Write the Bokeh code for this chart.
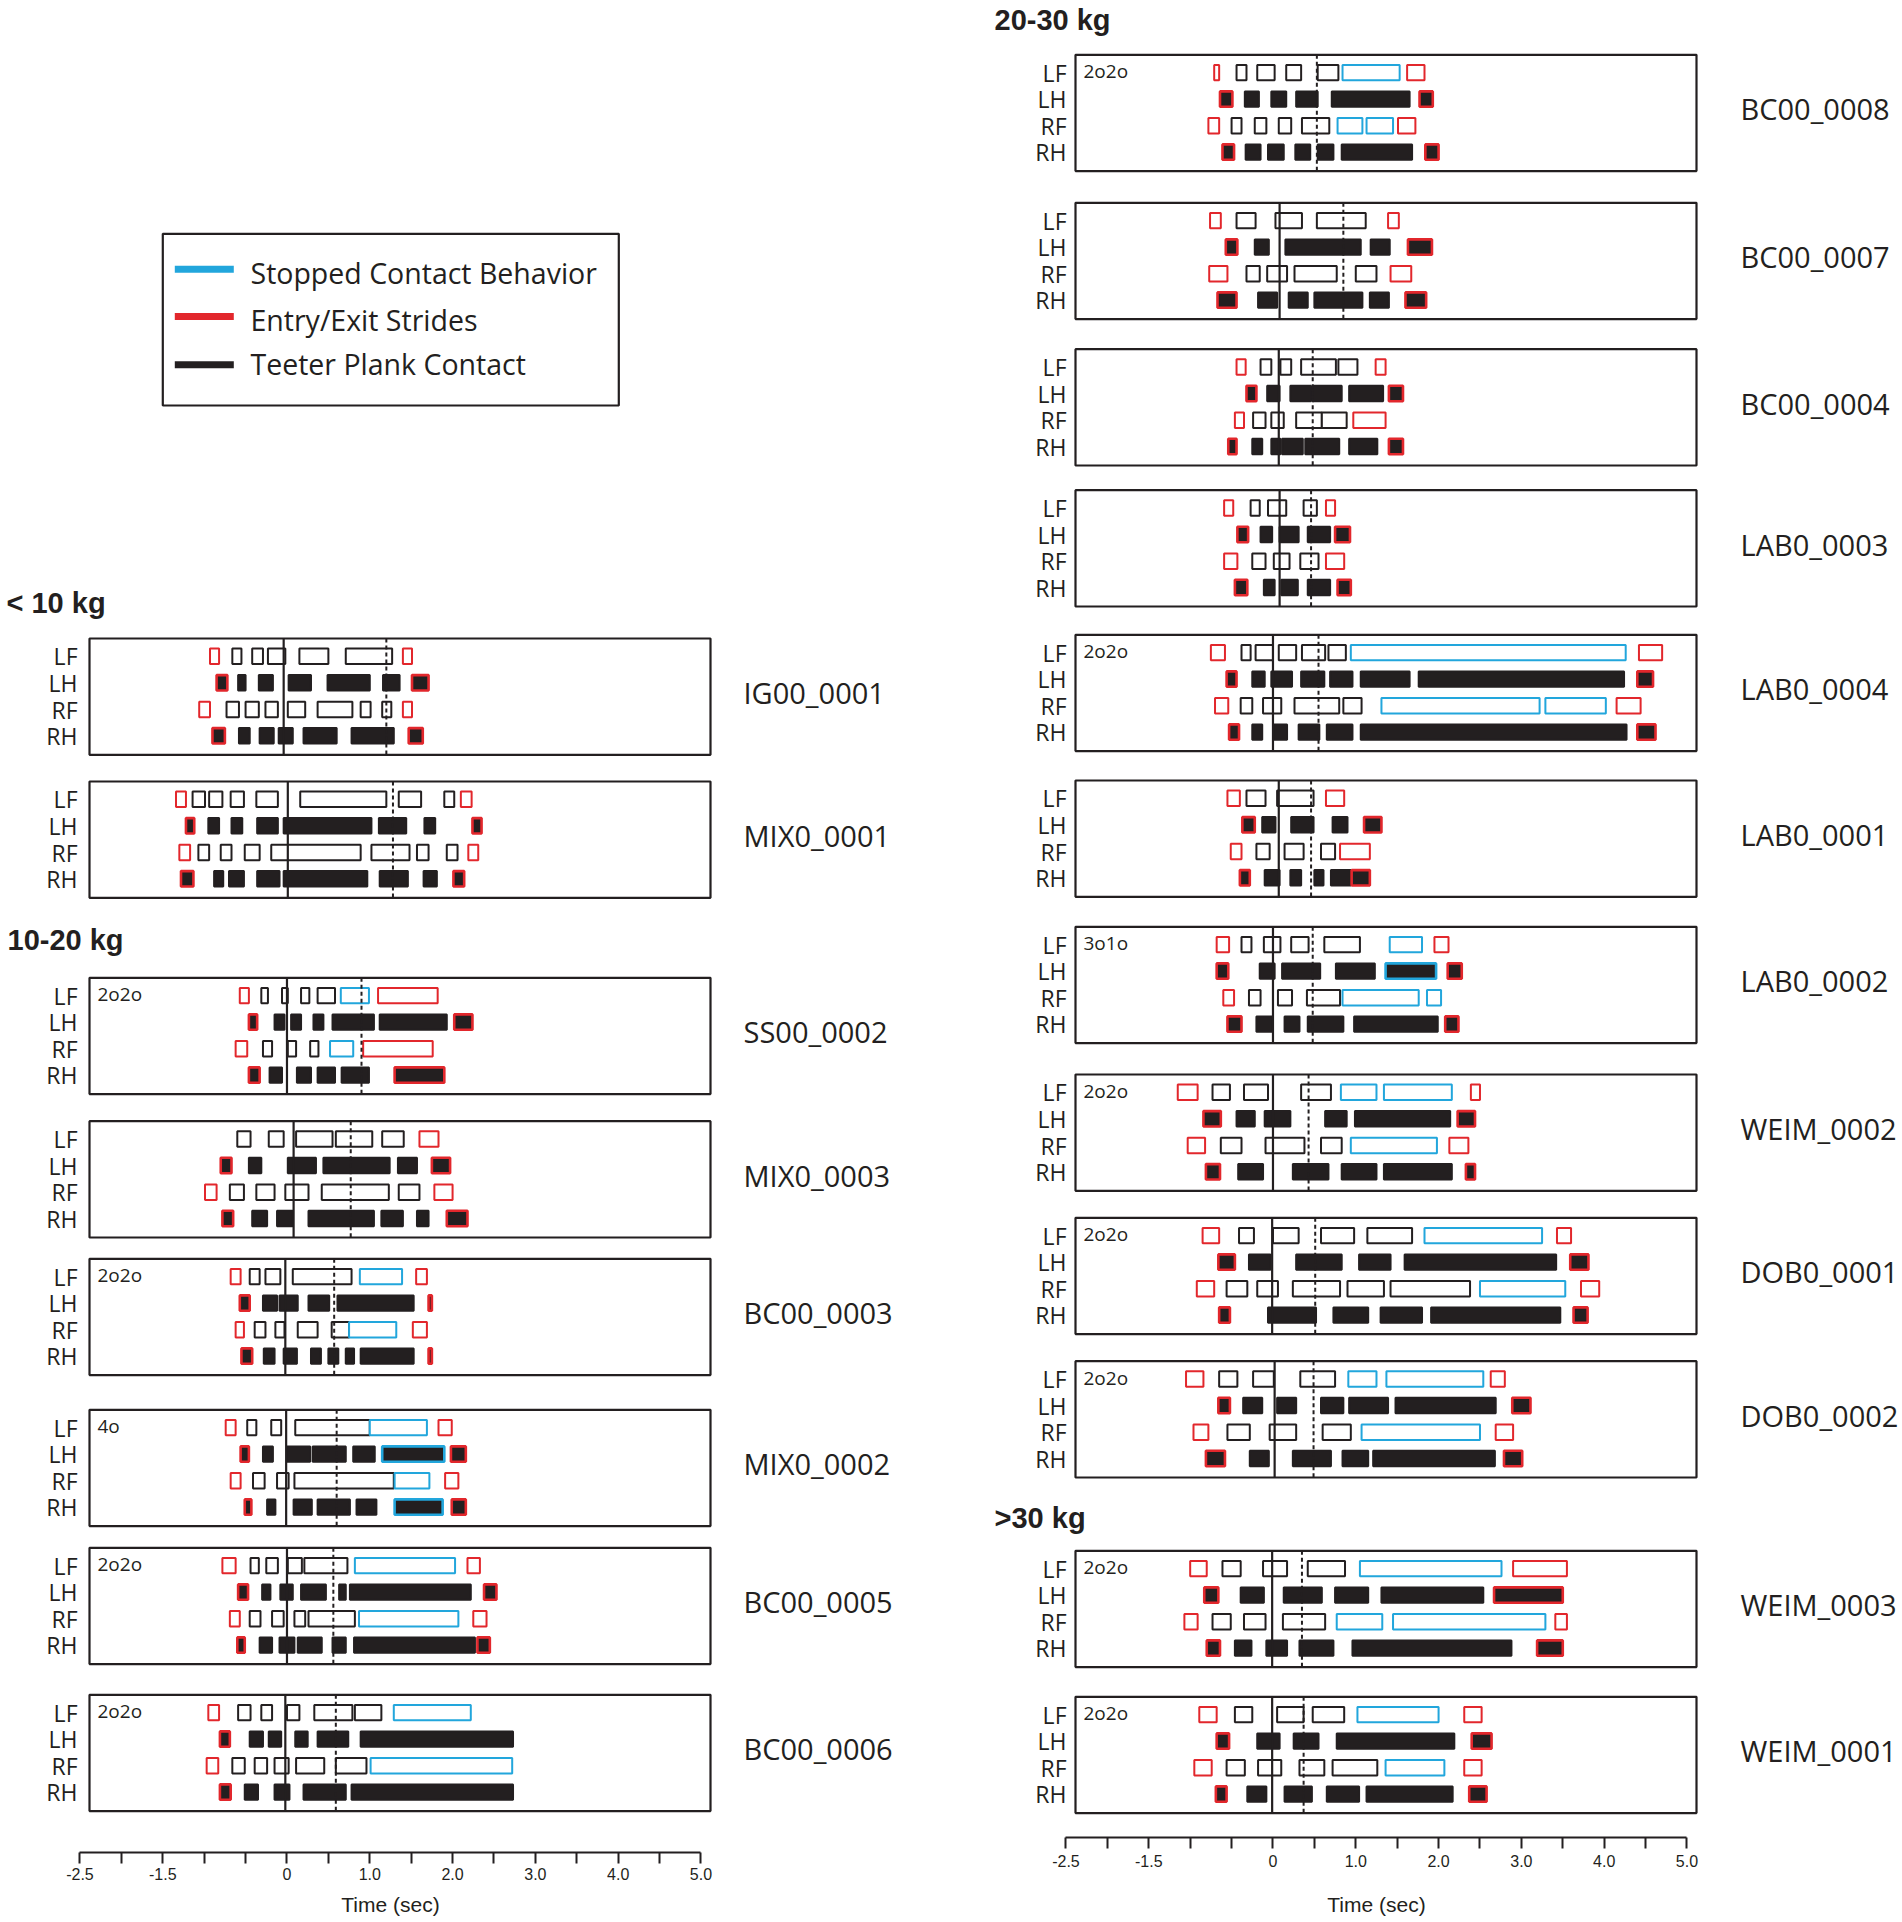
from bokeh.plotting import figure
from bokeh.models import Range1d, FixedTicker, ColumnDataSource, LinearAxis
from bokeh.embed import file_html
from bokeh.resources import INLINE
from bokeh.core.properties import value

# ============================ DATA ============================
LIMBS = ["LF", "LH", "RF", "RH"]
# stance phases per limb: (touch-down [s], lift-off [s], kind)
# kind: "e" = entry/exit stride, "s" = stopped contact behavior, "t" = teeter plank contact

IG00_0001 = {
    "LF": [(-0.93, -0.82, "e"), (-0.66, -0.55, "t"), (-0.42, -0.29, "t"), (-0.23, -0.02, "t"), (0.15, 0.50, "t"), (0.71, 1.27, "t"), (1.40, 1.51, "e")],
    "LH": [(-0.85, -0.72, "e"), (-0.59, -0.50, "t"), (-0.34, -0.17, "t"), (0.02, 0.29, "t"), (0.49, 1.00, "t"), (1.16, 1.36, "t"), (1.51, 1.71, "e")],
    "RF": [(-1.06, -0.93, "e"), (-0.73, -0.58, "t"), (-0.50, -0.34, "t"), (-0.26, -0.11, "t"), (0.01, 0.22, "t"), (0.37, 0.79, "t"), (0.89, 1.01, "t"), (1.15, 1.26, "t"), (1.40, 1.51, "e")],
    "RH": [(-0.90, -0.75, "e"), (-0.58, -0.45, "t"), (-0.33, -0.16, "t"), (-0.10, 0.07, "t"), (0.20, 0.60, "t"), (0.78, 1.29, "t"), (1.47, 1.64, "e")],
}
MIX0_0001 = {
    "LF": [(-1.34, -1.22, "e"), (-1.14, -0.99, "t"), (-0.94, -0.78, "t"), (-0.68, -0.52, "t"), (-0.37, -0.11, "t"), (0.16, 1.20, "t"), (1.35, 1.62, "t"), (1.90, 2.02, "t"), (2.10, 2.23, "e")],
    "LH": [(-1.22, -1.12, "e"), (-0.95, -0.82, "t"), (-0.67, -0.54, "t"), (-0.36, -0.11, "t"), (-0.04, 1.02, "t"), (1.11, 1.44, "t"), (1.66, 1.79, "t"), (2.24, 2.35, "e")],
    "RF": [(-1.30, -1.17, "e"), (-1.07, -0.94, "t"), (-0.80, -0.67, "t"), (-0.51, -0.33, "t"), (-0.19, 0.89, "t"), (1.02, 1.48, "t"), (1.57, 1.71, "t"), (1.93, 2.06, "t"), (2.19, 2.31, "e")],
    "RH": [(-1.28, -1.13, "e"), (-0.88, -0.77, "t"), (-0.70, -0.52, "t"), (-0.36, -0.09, "t"), (-0.04, 0.97, "t"), (1.12, 1.46, "t"), (1.65, 1.81, "t"), (2.01, 2.14, "e")],
}
SS00_0002 = {
    "LF": [(-0.57, -0.46, "e"), (-0.31, -0.23, "t"), (-0.06, 0.01, "t"), (0.17, 0.27, "t"), (0.37, 0.58, "t"), (0.65, 0.99, "s"), (1.10, 1.82, "e")],
    "LH": [(-0.46, -0.36, "e"), (-0.15, -0.03, "t"), (0.05, 0.17, "t"), (0.32, 0.44, "t"), (0.55, 1.05, "t"), (1.12, 1.93, "t"), (2.02, 2.24, "e")],
    "RF": [(-0.62, -0.48, "e"), (-0.29, -0.18, "t"), (0.01, 0.11, "t"), (0.28, 0.38, "t"), (0.52, 0.80, "s"), (0.92, 1.76, "e")],
    "RH": [(-0.46, -0.33, "e"), (-0.21, -0.06, "t"), (0.12, 0.29, "t"), (0.37, 0.58, "t"), (0.66, 0.99, "t"), (1.30, 1.90, "e")],
}
MIX0_0003 = {
    "LF": [(-0.60, -0.44, "t"), (-0.22, -0.04, "t"), (0.11, 0.55, "t"), (0.59, 1.03, "t"), (1.15, 1.41, "t"), (1.60, 1.83, "e")],
    "LH": [(-0.80, -0.67, "e"), (-0.46, -0.31, "t"), (0.01, 0.35, "t"), (0.44, 1.24, "t"), (1.34, 1.57, "t"), (1.75, 1.97, "e")],
    "RF": [(-0.99, -0.85, "e"), (-0.69, -0.52, "t"), (-0.37, -0.15, "t"), (-0.02, 0.26, "t"), (0.42, 1.23, "t"), (1.35, 1.60, "t"), (1.78, 2.00, "e")],
    "RH": [(-0.78, -0.65, "e"), (-0.42, -0.24, "t"), (-0.12, 0.07, "t"), (0.26, 1.05, "t"), (1.14, 1.40, "t"), (1.57, 1.71, "t"), (1.93, 2.18, "e")],
}
BC00_0003 = {
    "LF": [(-0.68, -0.56, "e"), (-0.45, -0.33, "t"), (-0.26, -0.08, "t"), (0.07, 0.78, "t"), (0.88, 1.39, "s"), (1.56, 1.69, "e")],
    "LH": [(-0.57, -0.45, "e"), (-0.29, -0.12, "t"), (-0.09, 0.13, "t"), (0.26, 0.51, "t"), (0.61, 1.53, "t"), (1.71, 1.75, "e")],
    "RF": [(-0.62, -0.52, "e"), (-0.39, -0.26, "t"), (-0.14, -0.03, "t"), (0.13, 0.37, "t"), (0.54, 0.75, "t"), (0.75, 1.32, "s"), (1.52, 1.69, "e")],
    "RH": [(-0.55, -0.42, "e"), (-0.28, -0.15, "t"), (-0.04, 0.12, "t"), (0.29, 0.41, "t"), (0.50, 0.62, "t"), (0.71, 0.81, "t"), (0.89, 1.53, "t"), (1.71, 1.75, "e")],
}
MIX0_0002 = {
    "LF": [(-0.74, -0.62, "e"), (-0.48, -0.37, "t"), (-0.19, -0.07, "t"), (0.10, 1.00, "t"), (1.00, 1.69, "s"), (1.83, 1.99, "e")],
    "LH": [(-0.56, -0.46, "e"), (-0.29, -0.17, "t"), (0.00, 0.28, "t"), (0.31, 0.71, "t"), (0.80, 1.06, "t"), (1.15, 1.90, "s"), (1.98, 2.16, "e")],
    "RF": [(-0.68, -0.56, "e"), (-0.41, -0.27, "t"), (-0.12, 0.02, "t"), (0.09, 1.29, "t"), (1.30, 1.72, "s"), (1.91, 2.07, "e")],
    "RH": [(-0.51, -0.43, "e"), (-0.24, -0.14, "t"), (0.08, 0.30, "t"), (0.37, 0.76, "t"), (0.84, 1.08, "t"), (1.30, 1.88, "s"), (1.99, 2.16, "e")],
}
BC00_0005 = {
    "LF": [(-0.78, -0.62, "e"), (-0.44, -0.34, "t"), (-0.25, -0.11, "t"), (0.01, 0.18, "t"), (0.21, 0.73, "t"), (0.82, 2.03, "s"), (2.18, 2.33, "e")],
    "LH": [(-0.59, -0.47, "e"), (-0.30, -0.20, "t"), (-0.08, 0.07, "t"), (0.17, 0.47, "t"), (0.63, 0.71, "t"), (0.76, 2.22, "t"), (2.38, 2.53, "e")],
    "RF": [(-0.69, -0.57, "e"), (-0.45, -0.32, "t"), (-0.18, -0.04, "t"), (0.09, 0.22, "t"), (0.26, 0.82, "t"), (0.87, 2.07, "s"), (2.25, 2.41, "e")],
    "RH": [(-0.60, -0.51, "e"), (-0.33, -0.18, "t"), (-0.09, 0.09, "t"), (0.13, 0.42, "t"), (0.55, 0.71, "t"), (0.81, 2.27, "t"), (2.30, 2.45, "e")],
}
BC00_0006 = {
    "LF": [(-0.95, -0.82, "e"), (-0.59, -0.44, "t"), (-0.31, -0.18, "t"), (0.00, 0.15, "t"), (0.33, 0.79, "t"), (0.82, 1.14, "t"), (1.29, 2.22, "s")],
    "LH": [(-0.81, -0.69, "e"), (-0.45, -0.29, "t"), (-0.22, -0.07, "t"), (0.10, 0.25, "t"), (0.37, 0.74, "t"), (0.89, 2.73, "t")],
    "RF": [(-0.97, -0.83, "e"), (-0.66, -0.51, "t"), (-0.39, -0.24, "t"), (-0.15, 0.02, "t"), (0.11, 0.45, "t"), (0.59, 0.96, "t"), (1.01, 2.72, "s")],
    "RH": [(-0.81, -0.68, "e"), (-0.51, -0.35, "t"), (-0.15, 0.03, "t"), (0.20, 0.71, "t"), (0.78, 2.73, "t")],
}
BC00_0008 = {
    "LF": [(-0.71, -0.65, "e"), (-0.44, -0.32, "t"), (-0.19, 0.02, "t"), (0.16, 0.34, "t"), (0.54, 0.79, "t"), (0.84, 1.53, "s"), (1.62, 1.83, "e")],
    "LH": [(-0.64, -0.49, "e"), (-0.34, -0.17, "t"), (-0.02, 0.16, "t"), (0.28, 0.54, "t"), (0.71, 1.65, "t"), (1.77, 1.93, "e")],
    "RF": [(-0.78, -0.65, "e"), (-0.50, -0.38, "t"), (-0.22, -0.08, "t"), (0.07, 0.22, "t"), (0.35, 0.68, "t"), (0.78, 1.08, "s"), (1.13, 1.45, "s"), (1.51, 1.72, "e")],
    "RH": [(-0.61, -0.47, "e"), (-0.33, -0.15, "t"), (-0.06, 0.13, "t"), (0.27, 0.45, "t"), (0.54, 0.73, "t"), (0.83, 1.68, "t"), (1.84, 2.00, "e")],
}
BC00_0007 = {
    "LF": [(-0.76, -0.63, "e"), (-0.44, -0.21, "t"), (0.03, 0.35, "t"), (0.53, 1.12, "t"), (1.39, 1.52, "e")],
    "LH": [(-0.57, -0.43, "e"), (-0.22, -0.05, "t"), (0.15, 1.06, "t"), (1.18, 1.41, "t"), (1.63, 1.92, "e")],
    "RF": [(-0.77, -0.55, "e"), (-0.32, -0.16, "t"), (-0.07, 0.17, "t"), (0.26, 0.77, "t"), (1.00, 1.25, "t"), (1.42, 1.67, "e")],
    "RH": [(-0.67, -0.44, "e"), (-0.18, 0.05, "t"), (0.19, 0.42, "t"), (0.50, 1.08, "t"), (1.17, 1.40, "t"), (1.60, 1.85, "e")],
}
BC00_0004 = {
    "LF": [(-0.44, -0.33, "e"), (-0.15, -0.02, "t"), (0.09, 0.22, "t"), (0.34, 0.76, "t"), (0.79, 1.02, "t"), (1.24, 1.36, "e")],
    "LH": [(-0.32, -0.20, "e"), (-0.07, 0.08, "t"), (0.21, 0.46, "t"), (0.48, 0.83, "t"), (0.92, 1.33, "t"), (1.40, 1.57, "e")],
    "RF": [(-0.46, -0.35, "e"), (-0.24, -0.09, "t"), (-0.02, 0.13, "t"), (0.28, 0.59, "t"), (0.59, 0.89, "t"), (0.97, 1.36, "e")],
    "RH": [(-0.54, -0.44, "e"), (-0.25, -0.13, "t"), (-0.02, 0.09, "t"), (0.11, 0.36, "t"), (0.39, 0.80, "t"), (0.92, 1.26, "t"), (1.40, 1.57, "e")],
}
LAB0_0003 = {
    "LF": [(-0.59, -0.48, "e"), (-0.27, -0.16, "t"), (-0.06, 0.16, "t"), (0.37, 0.53, "t"), (0.64, 0.75, "e")],
    "LH": [(-0.43, -0.30, "e"), (-0.15, -0.01, "t"), (0.08, 0.31, "t"), (0.42, 0.69, "t"), (0.75, 0.93, "e")],
    "RF": [(-0.59, -0.43, "e"), (-0.25, -0.09, "t"), (0.01, 0.20, "t"), (0.33, 0.55, "t"), (0.64, 0.86, "e")],
    "RH": [(-0.46, -0.31, "e"), (-0.11, 0.02, "t"), (0.10, 0.30, "t"), (0.42, 0.69, "t"), (0.78, 0.94, "e")],
}
LAB0_0004 = {
    "LF": [(-0.75, -0.58, "e"), (-0.38, -0.27, "t"), (-0.21, 0.00, "t"), (0.07, 0.28, "t"), (0.35, 0.63, "t"), (0.67, 0.88, "t"), (0.94, 4.26, "s"), (4.42, 4.70, "e")],
    "LH": [(-0.56, -0.44, "e"), (-0.25, -0.10, "t"), (-0.02, 0.23, "t"), (0.34, 0.62, "t"), (0.69, 0.96, "t"), (1.06, 1.65, "t"), (1.76, 4.24, "t"), (4.40, 4.59, "e")],
    "RF": [(-0.70, -0.54, "e"), (-0.39, -0.25, "t"), (-0.12, 0.10, "t"), (0.26, 0.80, "t"), (0.85, 1.07, "t"), (1.31, 3.22, "s"), (3.29, 4.02, "s"), (4.15, 4.44, "e")],
    "RH": [(-0.53, -0.41, "e"), (-0.25, -0.13, "t"), (0.01, 0.17, "t"), (0.31, 0.56, "t"), (0.65, 0.96, "t"), (1.06, 4.27, "t"), (4.40, 4.62, "e")],
}
LAB0_0001 = {
    "LF": [(-0.55, -0.40, "e"), (-0.32, -0.09, "t"), (0.05, 0.49, "t"), (0.64, 0.86, "e")],
    "LH": [(-0.37, -0.22, "e"), (-0.13, 0.03, "t"), (0.22, 0.49, "t"), (0.72, 0.90, "t"), (1.10, 1.31, "e")],
    "RF": [(-0.51, -0.38, "e"), (-0.20, -0.04, "t"), (0.14, 0.37, "t"), (0.58, 0.75, "t"), (0.81, 1.17, "e")],
    "RH": [(-0.40, -0.28, "e"), (-0.10, 0.08, "t"), (0.21, 0.34, "t"), (0.50, 0.61, "t"), (0.70, 0.94, "t"), (0.95, 1.17, "e")],
}
LAB0_0002 = {
    "LF": [(-0.68, -0.53, "e"), (-0.38, -0.26, "t"), (-0.11, 0.09, "t"), (0.22, 0.43, "t"), (0.62, 1.05, "t"), (1.41, 1.80, "s"), (1.95, 2.12, "e")],
    "LH": [(-0.68, -0.54, "e"), (-0.16, 0.02, "t"), (0.11, 0.57, "t"), (0.76, 1.23, "t"), (1.36, 1.97, "s"), (2.11, 2.28, "e")],
    "RF": [(-0.60, -0.47, "e"), (-0.29, -0.15, "t"), (0.06, 0.23, "t"), (0.41, 0.81, "t"), (0.84, 1.76, "s"), (1.86, 2.03, "s")],
    "RH": [(-0.55, -0.38, "e"), (-0.20, 0.00, "t"), (0.14, 0.32, "t"), (0.42, 0.85, "t"), (0.98, 1.99, "t"), (2.08, 2.24, "e")],
}
WEIM_0002 = {
    "LF": [(-1.15, -0.91, "e"), (-0.73, -0.52, "t"), (-0.35, -0.06, "t"), (0.34, 0.70, "t"), (0.82, 1.25, "s"), (1.34, 2.16, "s"), (2.39, 2.50, "e")],
    "LH": [(-0.84, -0.63, "e"), (-0.44, -0.22, "t"), (-0.10, 0.21, "t"), (0.63, 0.89, "t"), (0.99, 2.14, "t"), (2.23, 2.44, "e")],
    "RF": [(-1.03, -0.82, "e"), (-0.63, -0.38, "t"), (-0.09, 0.38, "t"), (0.58, 0.83, "t"), (0.94, 1.98, "s"), (2.13, 2.36, "e")],
    "RH": [(-0.81, -0.64, "e"), (-0.42, -0.12, "t"), (0.24, 0.67, "t"), (0.83, 1.25, "t"), (1.34, 2.16, "t"), (2.33, 2.44, "e")],
}
DOB0_0001 = {
    "LF": [(-0.85, -0.65, "e"), (-0.41, -0.23, "t"), (0.00, 0.31, "t"), (0.58, 0.98, "t"), (1.14, 1.68, "t"), (1.83, 3.25, "s"), (3.43, 3.60, "e")],
    "LH": [(-0.66, -0.46, "e"), (-0.29, -0.03, "t"), (0.28, 0.83, "t"), (1.04, 1.42, "t"), (1.59, 3.42, "t"), (3.59, 3.81, "e")],
    "RF": [(-0.92, -0.71, "e"), (-0.56, -0.31, "t"), (-0.19, 0.06, "t"), (0.24, 0.81, "t"), (0.90, 1.34, "t"), (1.42, 2.38, "t"), (2.50, 3.53, "s"), (3.72, 3.94, "e")],
    "RH": [(-0.65, -0.52, "e"), (-0.06, 0.52, "t"), (0.73, 1.15, "t"), (1.30, 1.80, "t"), (1.91, 3.47, "t"), (3.63, 3.80, "e")],
}
DOB0_0002 = {
    "LF": [(-1.05, -0.84, "e"), (-0.65, -0.43, "t"), (-0.24, 0.01, "t"), (0.33, 0.75, "t"), (0.91, 1.25, "s"), (1.37, 2.54, "s"), (2.63, 2.80, "e")],
    "LH": [(-0.66, -0.52, "e"), (-0.36, -0.13, "t"), (0.05, 0.28, "t"), (0.58, 0.85, "t"), (0.92, 1.39, "t"), (1.48, 2.69, "t"), (2.89, 3.11, "e")],
    "RF": [(-0.96, -0.78, "e"), (-0.55, -0.28, "t"), (-0.04, 0.28, "t"), (0.60, 0.94, "t"), (1.07, 2.50, "s"), (2.69, 2.90, "e")],
    "RH": [(-0.81, -0.58, "e"), (-0.28, -0.05, "t"), (0.24, 0.70, "t"), (0.84, 1.15, "t"), (1.21, 2.68, "t"), (2.79, 3.01, "e")],
}
WEIM_0003 = {
    "LF": [(-1.00, -0.80, "e"), (-0.61, -0.39, "t"), (-0.12, 0.17, "t"), (0.42, 0.87, "t"), (1.05, 2.76, "s"), (2.90, 3.55, "e")],
    "LH": [(-0.83, -0.66, "e"), (-0.39, -0.11, "t"), (0.13, 0.59, "t"), (0.75, 1.15, "t"), (1.31, 2.54, "t"), (2.67, 3.50, "e")],
    "RF": [(-1.07, -0.91, "e"), (-0.73, -0.51, "t"), (-0.35, -0.09, "t"), (0.12, 0.63, "t"), (0.77, 1.32, "s"), (1.45, 3.29, "s"), (3.41, 3.55, "e")],
    "RH": [(-0.80, -0.64, "e"), (-0.46, -0.26, "t"), (-0.08, 0.17, "t"), (0.32, 0.73, "t"), (0.96, 2.88, "t"), (3.19, 3.50, "e")],
}
WEIM_0001 = {
    "LF": [(-0.89, -0.68, "e"), (-0.46, -0.25, "t"), (0.05, 0.37, "t"), (0.48, 0.86, "t"), (1.02, 2.00, "s"), (2.31, 2.52, "e")],
    "LH": [(-0.68, -0.53, "e"), (-0.19, 0.08, "t"), (0.25, 0.55, "t"), (0.77, 2.19, "t"), (2.40, 2.64, "e")],
    "RF": [(-0.95, -0.74, "e"), (-0.56, -0.34, "t"), (-0.18, 0.10, "t"), (0.32, 0.62, "t"), (0.72, 1.26, "t"), (1.36, 2.07, "s"), (2.31, 2.52, "e")],
    "RH": [(-0.69, -0.56, "e"), (-0.31, -0.08, "t"), (0.14, 0.47, "t"), (0.65, 1.04, "t"), (1.13, 2.17, "t"), (2.37, 2.58, "e")],
}

# (sample id, stance data, gait tag, solid event line [s], dotted event line [s])
LEFT_PANELS = [
    ("IG00_0001", IG00_0001, "", -0.04, 1.20),
    ("MIX0_0001", MIX0_0001, "", 0.01, 1.28),
    ("SS00_0002", SS00_0002, "2o2o", 0.00, 0.90),
    ("MIX0_0003", MIX0_0003, "", 0.08, 0.77),
    ("BC00_0003", BC00_0003, "2o2o", -0.02, 0.57),
    ("MIX0_0002", MIX0_0002, "4o", -0.01, 0.60),
    ("BC00_0005", BC00_0005, "2o2o", 0.00, 0.56),
    ("BC00_0006", BC00_0006, "2o2o", -0.02, 0.59),
]
RIGHT_PANELS = [
    ("BC00_0008", BC00_0008, "2o2o", None, 0.53),
    ("BC00_0007", BC00_0007, "", 0.08, 0.85),
    ("BC00_0004", BC00_0004, "", 0.07, 0.48),
    ("LAB0_0003", LAB0_0003, "", 0.08, 0.46),
    ("LAB0_0004", LAB0_0004, "2o2o", 0.00, 0.55),
    ("LAB0_0001", LAB0_0001, "", 0.07, 0.46),
    ("LAB0_0002", LAB0_0002, "3o1o", 0.00, 0.48),
    ("WEIM_0002", WEIM_0002, "2o2o", 0.00, 0.43),
    ("DOB0_0001", DOB0_0001, "2o2o", -0.01, 0.51),
    ("DOB0_0002", DOB0_0002, "2o2o", 0.02, 0.49),
    ("WEIM_0003", WEIM_0003, "2o2o", -0.01, 0.35),
    ("WEIM_0001", WEIM_0001, "2o2o", -0.01, 0.37),
]
LEFT_GROUPS = ["< 10 kg", "10-20 kg"]
RIGHT_GROUPS = ["20-30 kg", ">30 kg"]
LEGEND_LABELS = ["Stopped Contact Behavior", "Entry/Exit Strides", "Teeter Plank Contact"]
AXIS_BOUNDS = (-2.5, 5.0)
TICKS = [-2.5, -2.0, -1.5, -1.0, -0.5, 0.0, 0.5, 1.0, 1.5, 2.0, 2.5, 3.0, 3.5, 4.0, 4.5, 5.0]
TICK_TEXT = ["-2.5", "", "-1.5", "", "", "0", "", "1.0", "", "2.0", "", "3.0", "", "4.0", "", "5.0"]
AXIS_TITLE = "Time (sec)"

# ============================ LAYOUT / STYLE ============================
INK = "#231f20"
RED = "#e2272c"
BLUE = "#22a6dc"
KIND_COLOR = {"t": INK, "e": RED, "s": BLUE}
LEGEND_COLORS = [BLUE, RED, INK]

PAGE_W, PAGE_H = 1902, 1922
PPS = 621 / 7.5            # screen px per second
PANEL_H = 116.3
ROW_OFFS = [17.8, 44.3, 71.0, 97.3]
BOX_H = 15.4
SANS = value("Open Sans")
ARIAL = value("Liberation Sans")

LEFT = dict(frame_l=89.0, frame_r=710.0, axis_y=1852, title_y=1904,
            tops=[638.0, 781.0, 977.3, 1120.7, 1258.3, 1409.3, 1547.3, 1694.3],
            label_r=77, id_x=743, group_xy=[(6, 602), (7, 939)], tick_standoff=4)
RIGHT = dict(frame_l=1075.0, frame_r=1696.0, axis_y=1837, title_y=1904,
             tops=[54.3, 202.3, 348.7, 489.7, 634.3, 780.0, 926.3, 1074.0, 1217.3, 1360.7, 1550.3, 1696.3],
             label_r=1066, id_x=1740, group_xy=[(994, 19), (994, 1517)], tick_standoff=6)


def zero_px(col):
    return col["frame_l"] + 0.318 * (col["frame_r"] - col["frame_l"])


def page_range(col):
    z = zero_px(col)
    return Range1d((0 - z) / PPS, (PAGE_W - z) / PPS)


p = figure(width=PAGE_W, height=PAGE_H, x_range=page_range(LEFT), y_range=Range1d(PAGE_H, 0),
           toolbar_location=None, output_backend="svg",
           x_axis_location=None, y_axis_location=None, min_border=0)
p.extra_x_ranges = {"right": page_range(RIGHT)}
p.outline_line_color = None
p.grid.visible = False


def draw_column(col, rn, panels, groups, legend=False):
    zero = zero_px(col)

    def tx(px):
        return (px - zero) / PPS

    tops = col["tops"][:len(panels)]
    # panel frames
    p.quad(left=[tx(col["frame_l"])] * len(tops), right=[tx(col["frame_r"])] * len(tops),
           top=tops, bottom=[t + PANEL_H for t in tops], x_range_name=rn,
           fill_color=None, line_color=INK, line_width=2.2)

    # stance boxes
    L, R, T, B, FC, LC, LW = [], [], [], [], [], [], []
    for (name, data, tag, solid, dotted), top in zip(panels, tops):
        for k, limb in enumerate(LIMBS):
            yc = top + ROW_OFFS[k]
            hind = limb.endswith("H")
            for (t0, t1, kind) in data[limb]:
                L.append(t0); R.append(t1)
                T.append(yc - BOX_H / 2); B.append(yc + BOX_H / 2)
                FC.append(INK if hind else "white")
                LC.append(KIND_COLOR[kind])
                LW.append(2.6 if (hind and kind != "t") else 2.0)
    src = ColumnDataSource(dict(left=L, right=R, top=T, bottom=B, fc=FC, lc=LC, lw=LW))
    p.quad(left="left", right="right", top="top", bottom="bottom", source=src, x_range_name=rn,
           fill_color="fc", line_color="lc", line_width="lw")

    # event lines
    sx, sy0, sy1, dx, dy0, dy1 = [], [], [], [], [], []
    for (name, data, tag, solid, dotted), top in zip(panels, tops):
        if solid is not None:
            sx.append(solid); sy0.append(top); sy1.append(top + PANEL_H)
        dx.append(dotted); dy0.append(top); dy1.append(top + PANEL_H)
    p.segment(x0=sx, x1=sx, y0=sy0, y1=sy1, x_range_name=rn, line_color=INK, line_width=2.2)
    p.segment(x0=dx, x1=dx, y0=dy0, y1=dy1, x_range_name=rn, line_color=INK, line_width=2.0,
              line_dash="4 3")

    # limb labels, gait tags, sample ids
    lx, ly, lt, gx, gy, gt, ix, iy, it = [], [], [], [], [], [], [], [], []
    for (name, data, tag, solid, dotted), top in zip(panels, tops):
        for k, limb in enumerate(LIMBS):
            lx.append(tx(col["label_r"])); ly.append(top + ROW_OFFS[k]); lt.append(limb)
        if tag:
            gx.append(tx(col["frame_l"] + 8)); gy.append(top + 16.5); gt.append(tag)
        ix.append(tx(col["id_x"])); iy.append(top + PANEL_H / 2 - 4); it.append(name)
    p.text(x=lx, y=ly, text=lt, x_range_name=rn, text_font=SANS, text_font_size="23px",
           text_color=INK, text_align="right", text_baseline="middle")
    p.text(x=gx, y=gy, text=gt, x_range_name=rn, text_font=SANS, text_font_size="19px",
           text_color=INK, text_align="left", text_baseline="middle")
    p.text(x=ix, y=iy, text=it, x_range_name=rn, text_font=SANS, text_font_size="29px",
           text_color=INK, text_align="left", text_baseline="middle")

    # weight-group titles
    p.text(x=[tx(x) for x, y in col["group_xy"]], y=[y for x, y in col["group_xy"]], text=groups,
           x_range_name=rn, text_font=ARIAL, text_font_style="bold", text_font_size="29px",
           text_color=INK, text_align="left", text_baseline="middle")

    if legend:
        p.quad(left=[tx(162.3)], right=[tx(618.3)], top=[233.3], bottom=[405.0], x_range_name=rn,
               fill_color=None, line_color=INK, line_width=2.2)
        ys = [268.7, 316.0, 364.3]
        p.segment(x0=[tx(174.3)] * 3, x1=[tx(233.3)] * 3, y0=ys, y1=ys, x_range_name=rn,
                  line_color=LEGEND_COLORS, line_width=7)
        p.text(x=[tx(250)] * 3, y=[272.5, 319.5, 363.5], text=LEGEND_LABELS, x_range_name=rn,
               text_font=SANS, text_font_size="28.5px", text_color=INK,
               text_align="left", text_baseline="middle")

    # time axis (drawn at a fixed page position under the column)
    ax = LinearAxis(x_range_name=rn, fixed_location=col["axis_y"], bounds=AXIS_BOUNDS,
                    ticker=FixedTicker(ticks=TICKS, minor_ticks=[]),
                    major_label_overrides={t: s for t, s in zip(TICKS, TICK_TEXT)})
    ax.major_label_text_font = "Liberation Sans"
    ax.major_label_text_font_size = "16px"
    ax.major_label_text_color = INK
    ax.major_label_standoff = col["tick_standoff"]
    ax.major_tick_in = 0
    ax.major_tick_out = 11
    ax.minor_tick_in = 0
    ax.minor_tick_out = 0
    ax.axis_line_width = 2
    ax.major_tick_line_width = 2
    ax.axis_line_color = INK
    ax.major_tick_line_color = INK
    p.add_layout(ax, "below")
    # axis title centred under the axis span
    p.text(x=[(AXIS_BOUNDS[0] + AXIS_BOUNDS[1]) / 2], y=[col["title_y"]], text=[AXIS_TITLE],
           x_range_name=rn, text_font=ARIAL, text_font_size="21px", text_color=INK,
           text_align="center", text_baseline="middle")


draw_column(LEFT, "default", LEFT_PANELS, LEFT_GROUPS, legend=True)
draw_column(RIGHT, "right", RIGHT_PANELS, RIGHT_GROUPS)

open("out.html", "w").write(file_html(p, INLINE))
